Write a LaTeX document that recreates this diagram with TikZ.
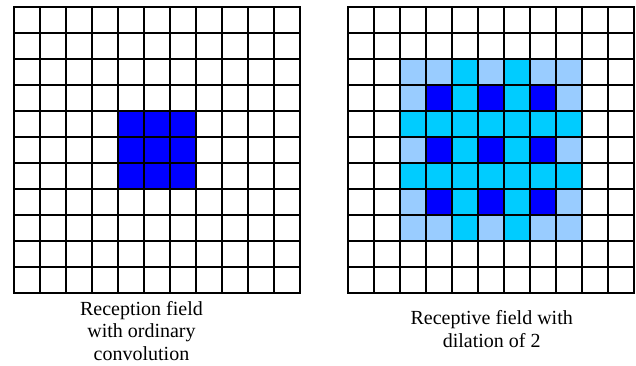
\documentclass[tikz,border=0pt]{standalone}
\usepackage{fontspec}
\setmainfont{Liberation Serif}
\definecolor{cellL}{RGB}{153,204,255}
\definecolor{cellC}{RGB}{0,204,255}
\definecolor{cellB}{RGB}{0,0,255}
\begin{document}
\begin{tikzpicture}[x=1pt,y=-1pt,
  gridline/.style={line width=1.5pt,black,line cap=rect},
  captext/.style={font=\fontsize{20}{22.5}\selectfont, align=center, inner sep=0pt, anchor=base}]
\useasboundingbox (0,0) rectangle (636,366);
\fill[white] (0,0) rectangle (636,366);
% left grid fill
\def\lx{14}\def\ly{7}
\fill[cellB] (\lx+26*4,\ly+26*4) rectangle ++(78,78);
% right grid fill
\def\rx{348}\def\ry{7}
\fill[cellL] (\rx+26*2,\ry+26*2) rectangle ++(182,182);
\foreach \c in {4,6} {
  \fill[cellC] (\rx+26*\c,\ry+26*2) rectangle ++(26,182);
  \fill[cellC] (\rx+26*2,\ry+26*\c) rectangle ++(182,26);
}
\foreach \c in {3,5,7} {
  \foreach \r in {3,5,7} {
    \fill[cellB] (\rx+26*\c,\ry+26*\r) rectangle ++(26,26);
  }
}
% grid lines
\foreach \gx/\gy in {\lx/\ly,\rx/\ry} {
  \foreach \i in {0,...,11} {
    \draw[gridline] (\gx+26*\i,\gy) -- (\gx+26*\i,\gy+286);
    \draw[gridline] (\gx,\gy+26*\i) -- (\gx+286,\gy+26*\i);
  }
}
\node[captext] (capL) at (141.5,360.3) {Reception field\\with ordinary\\convolution};
\node[captext] (capR) at (491.7,347) {Receptive field with\\dilation of 2};
\end{tikzpicture}
\end{document}
